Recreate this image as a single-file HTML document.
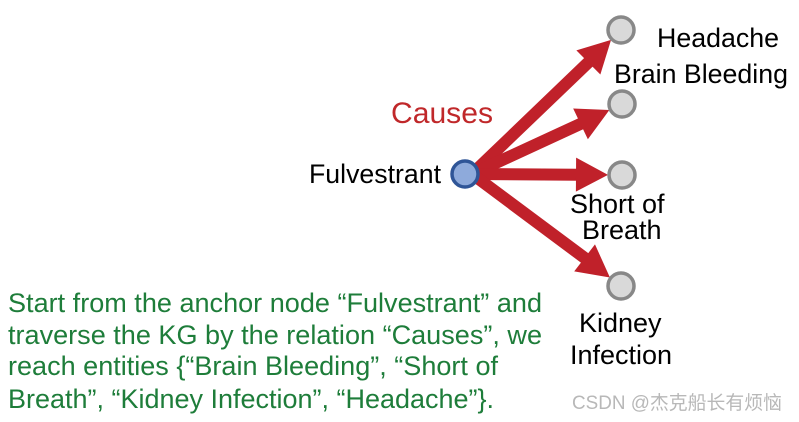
<!DOCTYPE html>
<html><head><meta charset="utf-8"><style>
html,body{margin:0;padding:0;background:#fff;width:799px;height:422px;overflow:hidden}
svg{display:block}
text{font-family:"Liberation Sans",Arial,sans-serif}
</style></head><body>
<svg id="s" width="799" height="422" viewBox="0 0 799 422" xmlns="http://www.w3.org/2000/svg">
<g id="arrows"></g>
<circle cx="465" cy="174" r="13" fill="#8eaadb" stroke="#2f5597" stroke-width="3.5"/>
<circle cx="621" cy="30" r="13" fill="#d9d9d9" stroke="#888" stroke-width="3.5"/>
<circle cx="622" cy="104" r="13" fill="#d9d9d9" stroke="#888" stroke-width="3.5"/>
<circle cx="622" cy="175" r="13" fill="#d9d9d9" stroke="#888" stroke-width="3.5"/>
<circle cx="621" cy="286" r="13" fill="#d9d9d9" stroke="#888" stroke-width="3.5"/>
<text x="657" y="47" font-size="27" fill="#000" textLength="122" lengthAdjust="spacingAndGlyphs">Headache</text>
<text x="614" y="83" font-size="27" fill="#000" textLength="174" lengthAdjust="spacingAndGlyphs">Brain Bleeding</text>
<text x="391" y="123" font-size="30" fill="#c0282a" textLength="102" lengthAdjust="spacingAndGlyphs">Causes</text>
<text x="309" y="183" font-size="27" fill="#000" textLength="132" lengthAdjust="spacingAndGlyphs">Fulvestrant</text>
<text x="570" y="213" font-size="27" fill="#000">Short of</text>
<text x="582" y="239" font-size="27" fill="#000">Breath</text>
<text x="579" y="332" font-size="27" fill="#000">Kidney</text>
<text x="570" y="364" font-size="27" fill="#000">Infection</text>
<g font-size="26.5" fill="#1e7d3a">
<text x="8" y="312" textLength="534" lengthAdjust="spacingAndGlyphs">Start from the anchor node “Fulvestrant” and</text>
<text x="8" y="344" textLength="534" lengthAdjust="spacingAndGlyphs">traverse the KG by the relation “Causes”, we</text>
<text x="8" y="375" textLength="490" lengthAdjust="spacingAndGlyphs">reach entities {“Brain Bleeding”, “Short of</text>
<text x="8" y="408" textLength="486" lengthAdjust="spacingAndGlyphs">Breath”, “Kidney Infection”, “Headache”}.</text>
</g>
<text x="572" y="409" font-size="19" fill="#b8b8b8" textLength="210" lengthAdjust="spacingAndGlyphs" font-family="'Liberation Sans','Noto Sans CJK SC',sans-serif">CSDN @杰克船长有烦恼</text>
</svg>
<script>
var g=document.getElementById('arrows');
var sx=476,sy=174;
[[621,30],[622,104],[622,175],[621,286]].forEach(function(t){
 var dx=t[0]-sx,dy=t[1]-sy,L=Math.hypot(dx,dy),ux=dx/L,uy=dy/L;
 var tipL=L-14,hl=32,hw=17;
 var tx=sx+ux*tipL,ty=sy+uy*tipL,bx=sx+ux*(tipL-hl),by=sy+uy*(tipL-hl);
 var px=-uy,py=ux;
 var l=document.createElementNS('http://www.w3.org/2000/svg','line');
 l.setAttribute('x1',sx-4);l.setAttribute('y1',sy);l.setAttribute('x2',bx+ux*2);l.setAttribute('y2',by+uy*2);
 l.setAttribute('stroke','#c0212a');l.setAttribute('stroke-width','12');
 g.appendChild(l);
 var p=document.createElementNS('http://www.w3.org/2000/svg','polygon');
 p.setAttribute('points',tx+','+ty+' '+(bx+px*hw)+','+(by+py*hw)+' '+(bx-px*hw)+','+(by-py*hw));
 p.setAttribute('fill','#c0212a');
 g.appendChild(p);
});
</script>
</body></html>
